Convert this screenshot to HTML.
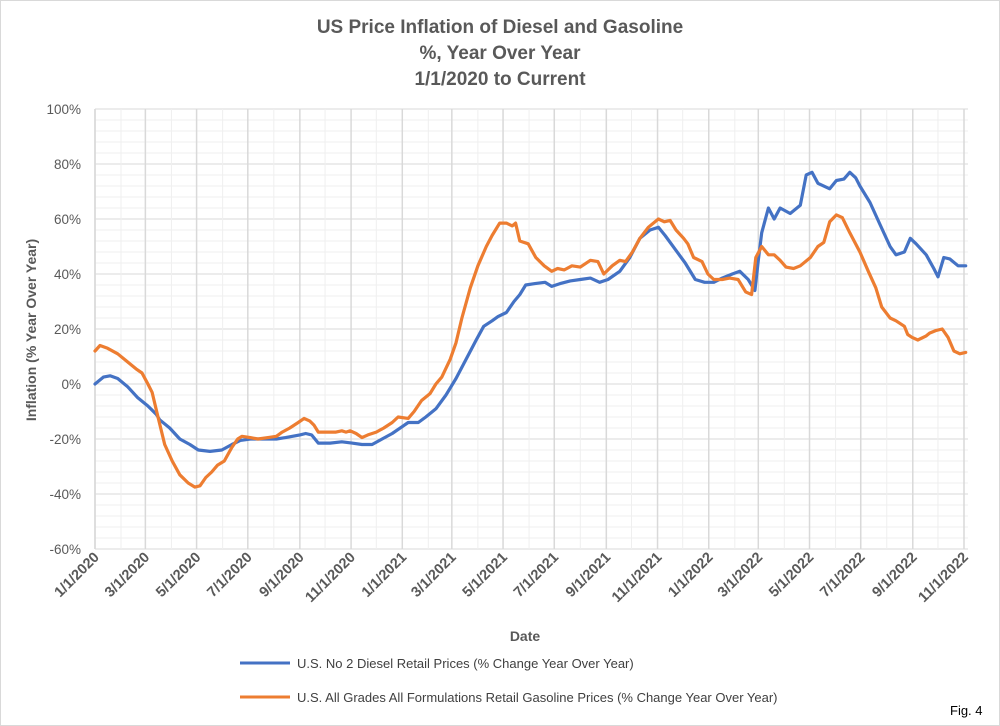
<!DOCTYPE html>
<html><head><meta charset="utf-8"><style>
body{margin:0;background:#fff;}
svg{display:block;font-family:"Liberation Sans",sans-serif;}
</style></head><body>
<svg id="chart" width="1000" height="726" viewBox="0 0 1000 726">
<rect x="0.5" y="0.5" width="999" height="725" fill="#fff" stroke="#d9d9d9"/>
<g fill="#595959" font-weight="bold" font-size="19" text-anchor="middle">
<text x="500" y="33">US Price Inflation of Diesel and Gasoline</text>
<text x="500" y="59">%, Year Over Year</text>
<text x="500" y="85">1/1/2020 to Current</text>
</g>
<g id="grid"></g><g id="axes"></g><g id="series"></g>
<text x="525" y="641" font-size="14" font-weight="bold" fill="#595959" text-anchor="middle">Date</text>
<text transform="translate(36,330) rotate(-90)" font-size="14" font-weight="bold" fill="#595959" text-anchor="middle">Inflation (%  Year Over Year)</text>
<g>
<g><line x1="240" y1="663" x2="290" y2="663" stroke="#4472c4" stroke-width="3"/><text x="297" y="668" font-size="13" fill="#404040">U.S. No 2 Diesel Retail Prices (% Change Year Over Year)</text></g>
<g><line x1="240" y1="697" x2="290" y2="697" stroke="#ed7d31" stroke-width="3"/><text x="297" y="702" font-size="13" fill="#404040">U.S. All Grades All Formulations Retail Gasoline Prices (% Change Year Over Year)</text></g>
</g>
<text x="950" y="715" font-size="13" fill="#000">Fig. 4</text>
</svg>
<script>
const yTicks=[-60,-40,-20,0,20,40,60,80,100];
const xTickLabels=["1/1/2020","3/1/2020","5/1/2020","7/1/2020","9/1/2020","11/1/2020","1/1/2021","3/1/2021","5/1/2021","7/1/2021","9/1/2021","11/1/2021","1/1/2022","3/1/2022","5/1/2022","7/1/2022","9/1/2022","11/1/2022"];
const dieselDays=[0,10,18,27,39,51,63,73,77,89,101,113,123,137,151,163,173,185,202,216,227,244,251,258,266,280,294,306,318,330,342,354,366,373,385,394,406,418,430,442,454,463,473,480,490,499,506,513,524,536,544,554,566,578,590,601,611,625,637,649,661,671,679,691,703,715,726,737,747,759,768,778,786,790,794,802,809,816,828,840,847,854,861,875,883,892,899,906,911,923,935,947,954,964,971,978,990,999,1004,1011,1018,1028,1037];
const dieselValues=[0,2.5,3,2,-1,-5,-8,-11,-13,-16,-20,-22,-24,-24.5,-24,-22,-20.5,-20,-20,-20,-19.5,-18.5,-18,-18.5,-21.5,-21.5,-21,-21.5,-22,-22,-20,-18,-15.5,-14,-14,-12,-9,-4,2,9,16,21,23,24.5,26,30,32.5,36,36.5,37,35.5,36.5,37.5,38,38.5,37,38,41,46,53,56,57,54,49,44,38,37,37,38.5,40,41,38,34,45,55,64,60,64,62,65,76,77,73,71,74,74.5,77,75,72,66,58,50,47,48,53,51,47,42,39,46,45.5,43,43];
const gasDays=[0,6,15,27,39,49,56,63,68,75,83,92,101,111,119,125,132,139,146,154,163,170,175,185,194,206,216,223,232,242,249,256,261,266,277,287,294,299,304,311,318,325,335,344,354,361,373,380,389,399,406,413,423,430,437,447,456,466,473,482,490,497,501,506,516,525,535,544,551,559,568,578,590,599,606,616,625,632,640,649,659,671,678,685,692,701,706,713,723,730,737,747,756,766,775,782,787,794,802,809,816,823,832,840,852,861,868,875,883,890,899,911,921,930,937,947,954,964,968,973,980,990,994,1002,1009,1016,1023,1030,1037];
const gasValues=[12,14,13,11,8,5.5,4,0,-3,-12,-22,-28,-33,-36,-37.5,-37,-34,-32,-29.5,-28,-23,-20,-19,-19.5,-20,-19.5,-19,-17.5,-16,-14,-12.5,-13.5,-15,-17.5,-17.5,-17.5,-17,-17.5,-17,-18,-19.5,-18.5,-17.5,-16,-14,-12,-12.5,-10,-6,-3.5,0,2.5,9,15,24,35,43,50,54,58.5,58.5,57.5,58.5,52,51,46,43,41,42,41.5,43,42.5,45,44.5,40,43,45,44.5,48,53,57,60,59,59.5,56,53,51,46,44.5,40,38,38,38.5,38,33.5,32.5,46,50,47,47,45,42.5,42,43,46,50,51.5,59,61.5,60.5,55,48,41,35,28,24,23,21,18,17,16,17.5,18.5,19.5,20,17,12,11,11.5];

const NS="http://www.w3.org/2000/svg";
const X0=95,X1=968,Y0=549,Y1=109,DAY0=Date.UTC(2020,0,1),PXD=869/1035;
function xScale(d){return X0+d*PXD;}
function yScale(v){return Y0-(v+60)/160*(Y0-Y1);}
function dateDay(s){const p=s.split('/');return (Date.UTC(+p[2],+p[0]-1,+p[1])-DAY0)/86400000;}
function mk(tag,attrs,parent){const e=document.createElementNS(NS,tag);for(const k in attrs)e.setAttribute(k,attrs[k]);parent.appendChild(e);return e;}
const grid=document.getElementById('grid'),axes=document.getElementById('axes'),series=document.getElementById('series');
for(let v=-60;v<=100;v+=4){
  const l=mk('line',{x1:X0,x2:X1,y1:yScale(v),y2:yScale(v),stroke:(v%20===0)?'#d9d9d9':'#efefef','stroke-width':1},grid);
  
  
}
for(let m=0;m<=34;m++){
  const d=(Date.UTC(2020,m,1)-DAY0)/86400000;const x=xScale(d);
  const l=mk('line',{x1:x,x2:x,y1:Y1,y2:Y0,stroke:(m%2===0)?'#d9d9d9':'#efefef','stroke-width':(m%2===0)?1.5:1},grid);
  
  
}
yTicks.forEach(v=>{
  const t=mk('text',{x:81,y:yScale(v)+5,'text-anchor':'end','font-size':13.5,fill:'#595959'},axes);
  t.textContent=v+'%';
  
  
});
xTickLabels.forEach(s=>{
  const x=xScale(dateDay(s));
  const t=mk('text',{transform:`translate(${x+5},${Y0+9}) rotate(-45)`,'text-anchor':'end','font-size':14.5,'font-weight':'bold',fill:'#595959'},axes);
  t.textContent=s;
  
  
});
const ax=mk('line',{x1:X0,x2:X0,y1:Y1,y2:Y0,stroke:'#d9d9d9','stroke-width':1.5},axes);


function drawLine(days,vals,color,name){
  const d=days.map((dd,i)=>(i?'L':'M')+xScale(dd).toFixed(1)+','+yScale(vals[i]).toFixed(1)).join(' ');
  const p=mk('path',{d:d,fill:'none',stroke:color,'stroke-width':3.2,'stroke-linejoin':'round','stroke-linecap':'round'},series);
  
  
}
drawLine(dieselDays,dieselValues,'#4472c4','diesel-line');
drawLine(gasDays,gasValues,'#ed7d31','gasoline-line');
</script>
</body></html>
